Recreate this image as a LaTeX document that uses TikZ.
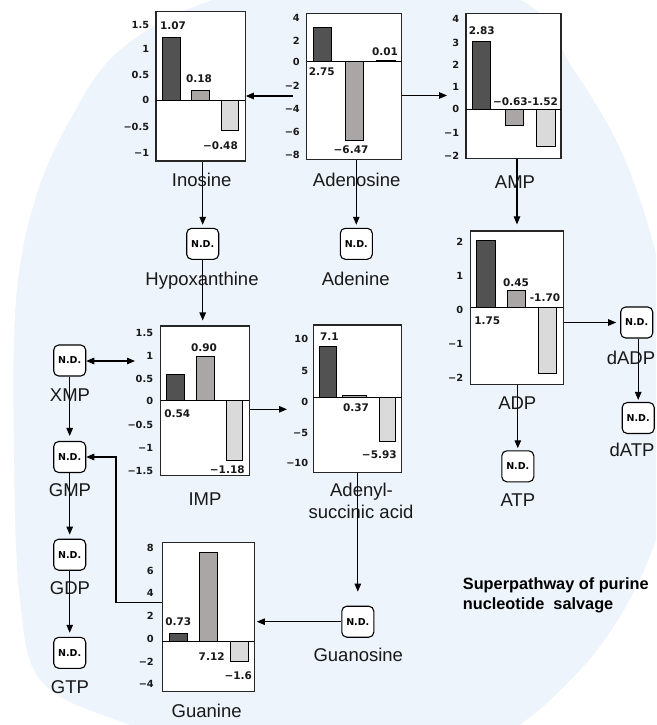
\documentclass[tikz,border=0pt]{standalone}
\usepackage{fontspec}
\setmainfont{Liberation Sans}
\newfontfamily\numfont{DejaVu Sans}[BoldFont={DejaVu Sans Bold}]
\usetikzlibrary{arrows.meta}
\definecolor{bgblue}{RGB}{237,244,251}
\definecolor{bardark}{RGB}{82,82,82}
\definecolor{barmid}{RGB}{170,166,166}
\definecolor{barlight}{RGB}{218,218,218}
\definecolor{txt}{RGB}{25,25,25}
\tikzset{
  chartbox/.style={draw=black!85, line width=1.1pt, fill=white, inner sep=0pt},
  ndbox/.style={draw=black, line width=1.1pt, fill=white, rounded corners=5pt,
    minimum width=32pt, minimum height=31pt, inner sep=0pt,
    font=\numfont\bfseries\fontsize{9.5}{9.5}\selectfont},
  barshape/.style={draw=black, line width=0.8pt},
  zeroline/.style={draw=black, line width=1pt},
  ticklab/.style={anchor=base east, inner sep=0pt, text=txt,
    font=\numfont\bfseries\fontsize{9.8}{9.8}\selectfont},
  vallab/.style={anchor=base, inner sep=0pt, text=txt,
    font=\numfont\bfseries\fontsize{10.5}{10.5}\selectfont},
  namelab/.style={anchor=base, inner sep=0pt, text=txt,
    font=\fontsize{18.5}{21}\selectfont},
  titlelab/.style={anchor=north west, inner sep=0pt, align=left, text=black,
    font=\bfseries\fontsize{16.3}{20}\selectfont},
  conn/.style={draw=black, line width=1.1pt, -{Triangle[length=8pt,width=6.5pt]}},
  conntwo/.style={draw=black, line width=1.1pt,
    {Triangle[length=8pt,width=6.5pt]}-{Triangle[length=8pt,width=6.5pt]}},
}
\newcounter{labc}
\newcommand\mkchart[5]{\node[chartbox, minimum width={#3pt-#2pt}, minimum height={#5pt-#4pt}] (#1) at ({(#2+#3)/2},{(#4+#5)/2}) {};}
\newcommand\mybar[5]{\draw[barshape, fill=#5] (#1,#3) rectangle (#2,#4);}
\newcommand\myzero[3]{\draw[zeroline] (#1,#3) -- (#2,#3);}
\newcommand\tkl[3]{\stepcounter{labc}\node[ticklab] (tk\arabic{labc}) at (#1,#2) {#3};}
\newcommand\vl[3]{\stepcounter{labc}\node[vallab] (vl\arabic{labc}) at (#1,#2) {#3};}
\begin{document}
\begin{tikzpicture}[x=1pt,y=-1pt]
\useasboundingbox (0,0) rectangle (656,725);
% background
\begin{scope}
\clip (0,0) rectangle (656,725);
\fill[white] (0,0) rectangle (656,725);
\fill[bgblue] plot[smooth cycle, tension=0.6] coordinates {
 (366,-30) (520,0) (572,67) (625,160) (662,280) (675,400) (656,540) (580,670)
 (450,760) (250,765) (130,725) (43,683) (20,600) (14,450) (16,300) (35,200)
 (70,120) (120,50) (213,0)};
\end{scope}

% ---------- Inosine ----------
\mkchart{ino}{156}{245.3}{11.7}{161}
\mybar{162.7}{180}{100}{37.3}{bardark}
\mybar{191}{209.3}{100}{90.7}{barmid}
\mybar{221.7}{238.3}{100}{130}{barlight}
\myzero{156}{245.3}{100}
\tkl{149.3}{28.6}{1.5}\tkl{149.3}{52.9}{1}\tkl{149.3}{78.6}{0.5}\tkl{149.3}{103.6}{0}
\tkl{149.3}{130.3}{−0.5}\tkl{149.3}{156.6}{−1}
\vl{173}{30}{1.07}\vl{199}{82}{0.18}\vl{220.5}{149}{−0.48}

% ---------- Adenosine ----------
\mkchart{ado}{306.7}{401.7}{13.3}{159.3}
\mybar{313.3}{331.7}{61.7}{27.7}{bardark}
\mybar{345}{363.3}{61.7}{140}{barmid}
\mybar{376.7}{395.7}{61.7}{60.3}{barlight}
\myzero{306.7}{401.7}{61.7}
\tkl{300}{21.9}{4}\tkl{300}{44.3}{2}\tkl{300}{65.3}{0}\tkl{300}{89.6}{−2}
\tkl{300}{112.9}{−4}\tkl{300}{135.3}{−6}\tkl{300}{158.6}{−8}
\vl{321.7}{75.7}{2.75}\vl{351}{153.3}{−6.47}\vl{385}{55.7}{0.01}

% ---------- AMP ----------
\mkchart{amp}{466}{561}{13.3}{158.3}
\mybar{472.7}{490.7}{109.3}{41}{bardark}
\mybar{505}{523.3}{109.3}{125.7}{barmid}
\mybar{536}{555}{109.3}{146.7}{barlight}
\myzero{466}{561}{109.3}
\tkl{459.3}{22.9}{4}\tkl{459.3}{46.3}{3}\tkl{459.3}{68.6}{2}\tkl{459.3}{90.9}{1}
\tkl{459.3}{112.9}{0}\tkl{459.3}{136.9}{−1}\tkl{459.3}{159.3}{−2}
\vl{481.7}{34.7}{2.83}\vl{525.5}{105.7}{−0.63-1.52}

% ---------- ADP ----------
\mkchart{adp}{470.7}{563.3}{231}{384.3}
\mybar{476.7}{495}{307.7}{240.7}{bardark}
\mybar{507.3}{525.7}{307.7}{290}{barmid}
\mybar{538.3}{556}{307.7}{373.3}{barlight}
\myzero{470.7}{563.3}{307.7}
\tkl{463.3}{245.3}{2}\tkl{463.3}{279.6}{1}\tkl{463.3}{313.6}{0}
\tkl{463.3}{347.9}{−1}\tkl{463.3}{381.9}{−2}
\vl{487.3}{324.7}{1.75}\vl{516}{286.3}{0.45}\vl{545}{301.7}{-1.70}

% ---------- IMP ----------
\mkchart{imp}{160.7}{249.3}{326}{475.7}
\mybar{166}{184}{400.7}{374}{bardark}
\mybar{196}{214}{400.7}{356}{barmid}
\mybar{226}{242.7}{400.7}{460}{barlight}
\myzero{160.7}{249.3}{400.7}
\tkl{153.3}{336.9}{1.5}\tkl{153.3}{359.6}{1}\tkl{153.3}{382.6}{0.5}\tkl{153.3}{404.3}{0}
\tkl{153.3}{428.6}{−0.5}\tkl{153.3}{451.3}{−1}\tkl{153.3}{474.3}{−1.5}
\vl{177.3}{417.3}{0.54}\vl{204}{351.7}{0.90}\vl{227.3}{473}{−1.18}

% ---------- Adenylsuccinic acid ----------
\mkchart{asa}{313.3}{401.7}{325}{472.3}
\mybar{319.3}{336.7}{397.7}{346.7}{bardark}
\mybar{342.7}{366.7}{397.7}{395.5}{barmid}
\mybar{379}{395.7}{397.7}{441.7}{barlight}
\myzero{313.3}{401.7}{397.7}
\tkl{308.3}{342.9}{10}\tkl{308.3}{374.3}{5}\tkl{308.3}{405.3}{0}
\tkl{308.3}{436.3}{−5}\tkl{308.3}{466.9}{−10}
\vl{329.3}{340.7}{7.1}\vl{356}{411.3}{0.37}\vl{379.3}{458}{−5.93}

% ---------- Guanine ----------
\mkchart{gua}{162.3}{254.3}{542.7}{691.7}
\mybar{169}{187.3}{641.7}{633.3}{bardark}
\mybar{199.3}{217.3}{641.7}{552.7}{barmid}
\mybar{230.7}{248.3}{641.7}{661.7}{barlight}
\myzero{162.3}{254.3}{641.7}
\tkl{154}{551.9}{8}\tkl{154}{574.3}{6}\tkl{154}{596.9}{4}\tkl{154}{619.6}{2}
\tkl{154}{642.9}{0}\tkl{154}{665.3}{−2}\tkl{154}{687.9}{−4}
\vl{178.3}{625.7}{0.73}\vl{211.7}{660.7}{7.12}\vl{238.3}{679}{−1.6}

% ---------- N.D. boxes ----------
\node[ndbox] (hypo) at (202.7,243.8) {N.D.};
\node[ndbox] (aden) at (356.3,243.8) {N.D.};
\node[ndbox] (xmp) at (69.7,360.5) {N.D.};
\node[ndbox] (gmp) at (69.7,457) {N.D.};
\node[ndbox] (gdp) at (69.7,554.7) {N.D.};
\node[ndbox] (gtp) at (69.7,652.8) {N.D.};
\node[ndbox] (atp) at (517.8,466.3) {N.D.};
\node[ndbox] (dadp) at (636.7,322.5) {N.D.};
\node[ndbox] (datp) at (638.2,418) {N.D.};
\node[ndbox] (guo) at (357.8,621.7) {N.D.};

% ---------- connectors ----------
\coordinate (adoL) at (293,96);
\coordinate (ampL) at (447,95.5);
\coordinate (impL) at (135,361);
\coordinate (asaL) at (287,409.3);
\coordinate (gbend) at (116,602.7);
\draw[conn] (adoL) -- (ino.east |- adoL);
\draw[conn] (ado.east |- ampL) -- (ampL);
\draw[conn, shorten >=3pt] (ino.south -| hypo.north) -- (hypo.north);
\draw[conn, shorten >=3pt] (ado.south -| aden.north) -- (aden.north);
\draw[conn, shorten >=6pt] (amp.south -| adp.north) -- (adp.north);
\draw[conn, shorten >=2pt] (adp.south -| atp.north) -- (atp.north);
\draw[conn, shorten >=4pt] (adp.east |- dadp.west) -- (dadp.west);
\draw[conn, shorten >=2pt] (dadp.south -| datp.north) -- (datp.north);
\draw[conn, shorten >=5pt] (hypo.south) -- (hypo.south |- imp.north);
\draw[conntwo] (xmp.east |- impL) -- (impL);
\draw[conn] (imp.east |- asaL) -- (asaL);
\draw[conn, shorten >=5pt] (xmp.south) -- (gmp.north);
\draw[conn, shorten >=4pt] (gmp.south) -- (gdp.north);
\draw[conn, shorten >=4pt] (gdp.south) -- (gtp.north);
\draw[conn] (gua.west |- gbend) -- (gbend) |- (gmp.east);
\draw[conn, shorten >=14pt] (asa.south -| guo.north) -- (guo.north);
\draw[conn, shorten >=2pt] (guo.west) -- (gua.east |- guo.west);

% ---------- names ----------
\node[namelab] (n-ino) at (201.7,186.3) {Inosine};
\node[namelab] (n-ado) at (356.7,186.3) {Adenosine};
\node[namelab] (n-amp) at (515,188) {AMP};
\node[namelab] (n-adp) at (517.3,409.6) {ADP};
\node[namelab] (n-imp) at (205,505.3) {IMP};
\node[namelab] (n-asa1) at (361.5,496.3) {Adenyl-};
\node[namelab] (n-asa2) at (361,518.3) {succinic acid};
\node[namelab] (n-gua) at (206.7,717.3) {Guanine};
\node[namelab] (n-hypo) at (202,285.6) {Hypoxanthine};
\node[namelab] (n-aden) at (355.7,285.6) {Adenine};
\node[namelab] (n-xmp) at (70,401.3) {XMP};
\node[namelab] (n-gmp) at (70,496.3) {GMP};
\node[namelab] (n-gdp) at (70,594.6) {GDP};
\node[namelab] (n-gtp) at (70,693) {GTP};
\node[namelab] (n-atp) at (517.8,506.3) {ATP};
\node[namelab] (n-dadp) at (631,364.6) {dADP};
\node[namelab] (n-datp) at (632,456.3) {dATP};
\node[namelab] (n-guo) at (358.3,661.3) {Guanosine};
\node[titlelab] (title) at (462.7,577) {Superpathway of purine\\nucleotide~~salvage};
\end{tikzpicture}
\end{document}
